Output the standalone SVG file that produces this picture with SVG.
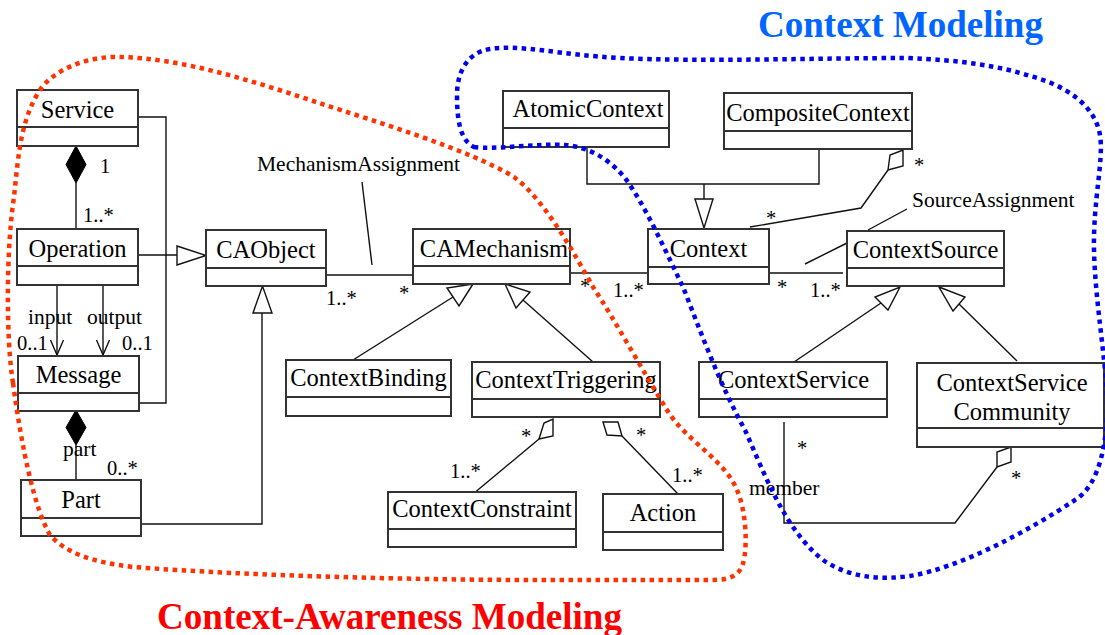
<svg xmlns="http://www.w3.org/2000/svg" width="1105" height="635" viewBox="0 0 1105 635">
<style>
.box{fill:#fff;stroke:#333;stroke-width:2}
.div{stroke:#333;stroke-width:2}
.name{font-family:"Liberation Serif","Times New Roman",serif;font-size:24.5px;fill:#000;text-anchor:middle}
.lbl{font-family:"Liberation Serif","Times New Roman",serif;font-size:21.5px;fill:#000}
.mul{font-family:"Liberation Serif","Times New Roman",serif;font-size:20.5px;fill:#000}
.ln{fill:none;stroke:#111;stroke-width:1.4}
.gen{fill:#fff;stroke:#111;stroke-width:1.4}
.agg{fill:#fff;stroke:#111;stroke-width:1.4}
.comp{fill:#000;stroke:#000;stroke-width:1}
.title{font-family:"Liberation Serif","Times New Roman",serif;font-weight:bold;font-size:37px}
.dotr{fill:none;stroke:#ff3300;stroke-width:4.5;stroke-dasharray:4.5 4.5}
.dotb{fill:none;stroke:#0000f0;stroke-width:4.5;stroke-dasharray:4.5 4.5}
</style>

<g id="connectors">
  <!-- Service composition Operation -->
  <polygon class="comp" points="76,146 86,164.5 76,183 66,164.5"/>
  <line class="ln" x1="76" y1="183" x2="76" y2="229"/>
  <polyline class="ln" points="138,117 166,117 166,403 139,403"/>
  <!-- Operation generalization CAObject -->
  <line class="ln" x1="138" y1="255" x2="177" y2="255"/>
  <polygon class="gen" points="177,246 206,255.5 177,265"/>
  <!-- input / output -->
  <line class="ln" x1="57" y1="285" x2="57" y2="355"/>
  <polyline class="ln" points="50.5,340 57,355 63.5,340"/>
  <line class="ln" x1="103" y1="285" x2="103" y2="355"/>
  <polyline class="ln" points="96.5,340 103,355 109.5,340"/>
  <!-- Message composition Part -->
  <polygon class="comp" points="76,410 86,427.5 76,445 66,427.5"/>
  <line class="ln" x1="76" y1="445" x2="76" y2="480"/>
  <!-- Part generalization CAObject -->
  <polyline class="ln" points="141,524 262,524 262,313"/>
  <polygon class="gen" points="253,313 262.5,286 272,313"/>
  <!-- CAObject - CAMechanism -->
  <line class="ln" x1="326" y1="275" x2="417" y2="275"/>
  <line class="ln" x1="362" y1="182" x2="372" y2="265"/>
  <!-- CAMechanism generalizations -->
  <line class="ln" x1="353" y1="360" x2="453" y2="297"/>
  <polygon class="gen" points="473,284 459,306 447,288"/>
  <line class="ln" x1="593" y1="362" x2="523" y2="300"/>
  <polygon class="gen" points="505,284 530,292 516,308"/>
  <!-- ContextTriggering aggregations -->
  <polygon class="agg" points="539,439 544,423 553,419 553,436"/>
  <line class="ln" x1="539" y1="439" x2="473" y2="494"/>
  <polygon class="agg" points="603,422 618,422 622,436 607,435"/>
  <line class="ln" x1="622" y1="436" x2="678" y2="494"/>
  <!-- CAMechanism - Context -->
  <line class="ln" x1="568" y1="273" x2="652" y2="273"/>
  <!-- Context - ContextSource -->
  <line class="ln" x1="769" y1="273" x2="843" y2="273"/>
  <line class="ln" x1="907" y1="209" x2="868" y2="230"/>
  <line class="ln" x1="847" y1="243" x2="805" y2="264"/>
  <!-- Atomic/Composite generalization Context -->
  <polyline class="ln" points="587,147 587,184 819,184 819,149"/>
  <line class="ln" x1="704" y1="184" x2="704" y2="199"/>
  <polygon class="gen" points="695,199 713,199 704,228"/>
  <!-- Context - CompositeContext aggregation -->
  <polyline class="ln" points="750,227 861,208 888,170"/>
  <polygon class="agg" points="888,170 890,155 903,150 903,166"/>
  <!-- ContextSource generalizations -->
  <line class="ln" x1="794" y1="362" x2="881" y2="303"/>
  <polygon class="gen" points="900,287 888,310 875,297"/>
  <line class="ln" x1="1017" y1="361" x2="959" y2="304"/>
  <polygon class="gen" points="939,287 965,297 953,311"/>
  <!-- member aggregation -->
  <polyline class="ln" points="784,422 784,523 955,523 997,467"/>
  <polygon class="agg" points="997,467 997,452 1011,447 1011,462"/>
</g>

<g id="labels">
  <text class="mul" x="100" y="173">1</text>
  <text class="mul" x="83" y="222">1..*</text>
  <text class="lbl" x="28" y="324">input</text>
  <text class="lbl" x="87" y="324">output</text>
  <text class="mul" x="17" y="350">0..1</text>
  <text class="mul" x="122" y="350">0..1</text>
  <text class="lbl" x="63" y="456">part</text>
  <text class="mul" x="107" y="475">0..*</text>
  <text class="lbl" x="257" y="171">MechanismAssignment</text>
  <text class="mul" x="326" y="305">1..*</text>
  <text class="mul" x="399" y="300">*</text>
  <text class="mul" x="580" y="293">*</text>
  <text class="mul" x="613" y="297">1..*</text>
  <text class="mul" x="777" y="294">*</text>
  <text class="mul" x="810" y="297">1..*</text>
  <text class="mul" x="766" y="225">*</text>
  <text class="mul" x="914" y="172">*</text>
  <text class="lbl" x="912" y="207">SourceAssignment</text>
  <text class="mul" x="797" y="455">*</text>
  <text class="lbl" x="749" y="495">member</text>
  <text class="mul" x="1011" y="485">*</text>
  <text class="mul" x="521" y="443">*</text>
  <text class="mul" x="450" y="478">1..*</text>
  <text class="mul" x="636" y="442">*</text>
  <text class="mul" x="672" y="482">1..*</text>
</g>

<g id="Service"><rect class="box" x="17" y="90" width="121" height="56"/><line class="div" x1="17" y1="127" x2="138" y2="127"/><text class="name" x="77.5" y="118">Service</text></g>
<g id="Operation"><rect class="box" x="17" y="229" width="121" height="56"/><line class="div" x1="17" y1="266" x2="138" y2="266"/><text class="name" x="77.5" y="257">Operation</text></g>
<g id="Message"><rect class="box" x="18" y="356" width="121" height="55"/><line class="div" x1="18" y1="393" x2="139" y2="393"/><text class="name" x="78.5" y="383">Message</text></g>
<g id="Part"><rect class="box" x="21" y="480" width="120" height="56"/><line class="div" x1="21" y1="518" x2="141" y2="518"/><text class="name" x="81" y="508">Part</text></g>
<g id="CAObject"><rect class="box" x="206" y="230" width="120" height="56"/><line class="div" x1="206" y1="268" x2="326" y2="268"/><text class="name" x="266" y="258">CAObject</text></g>
<g id="CAMechanism"><rect class="box" x="413" y="229" width="157" height="55"/><line class="div" x1="413" y1="266" x2="570" y2="266"/><text class="name" x="494" y="257">CAMechanism</text></g>
<g id="ContextBinding"><rect class="box" x="286" y="360" width="165" height="56"/><line class="div" x1="286" y1="397" x2="451" y2="397"/><text class="name" x="368.5" y="386">ContextBinding</text></g>
<g id="ContextTriggering"><rect class="box" x="472" y="362" width="188" height="55"/><line class="div" x1="472" y1="399" x2="660" y2="399"/><text class="name" x="566" y="388">ContextTriggering</text></g>
<g id="ContextConstraint"><rect class="box" x="388" y="492" width="188" height="55"/><line class="div" x1="388" y1="529" x2="576" y2="529"/><text class="name" x="482" y="517">ContextConstraint</text></g>
<g id="Action"><rect class="box" x="603" y="494" width="120" height="56"/><line class="div" x1="603" y1="532" x2="723" y2="532"/><text class="name" x="663" y="521">Action</text></g>
<g id="AtomicContext"><rect class="box" x="503" y="91" width="166" height="56"/><line class="div" x1="503" y1="128" x2="669" y2="128"/><text class="name" x="588" y="117">AtomicContext</text></g>
<g id="CompositeContext"><rect class="box" x="724" y="93" width="188" height="56"/><line class="div" x1="724" y1="131" x2="912" y2="131"/><text class="name" x="818" y="121">CompositeContext</text></g>
<g id="Context"><rect class="box" x="648" y="229" width="121" height="55"/><line class="div" x1="648" y1="267" x2="769" y2="267"/><text class="name" x="708.5" y="257">Context</text></g>
<g id="ContextSource"><rect class="box" x="847" y="231" width="157" height="55"/><line class="div" x1="847" y1="268" x2="1004" y2="268"/><text class="name" x="925.5" y="258">ContextSource</text></g>
<g id="ContextService"><rect class="box" x="699" y="362" width="188" height="55"/><line class="div" x1="699" y1="399" x2="887" y2="399"/><text class="name" x="793.5" y="388">ContextService</text></g>
<g id="ContextServiceCommunity"><rect class="box" x="917" y="363" width="187" height="84"/><line class="div" x1="917" y1="428" x2="1104" y2="428"/><text class="name" x="1012" y="391">ContextService</text><text class="name" x="1012" y="420">Community</text></g>

<g id="regions">
  <path class="dotr" d="M 13,383 C 6,340 6,250 14,197 C 18,160 20,120 40,90 C 55,68 90,56 119,57 C 180,58 250,80 316,102 C 380,123 470,150 514,177 C 545,200 575,255 593,287 C 615,320 645,375 667,410 C 685,440 725,460 737,490 C 748,515 748,560 740,570 C 733,580 720,580 707,580 L 540,580 C 420,580 250,576 133,567 C 90,562 65,552 50,535 C 35,510 22,450 13,383 Z"/>
  <path class="dotb" d="M 474,147 C 495,150 540,143 565,145 C 590,147 610,160 625,178 C 645,205 665,250 683,287 C 700,330 720,385 745,430 C 765,475 785,530 823,560 C 850,578 880,580 910,576 C 960,568 1030,530 1075,500 C 1100,485 1108,440 1107,400 C 1106,360 1095,300 1094,250 C 1093,200 1104,160 1100,135 C 1095,105 1065,85 1030,76 C 1000,66 960,60 906,58 C 820,58 700,62 620,58 C 560,55 520,44 490,49 C 465,53 457,75 457,95 C 457,120 460,140 474,147 Z"/>
  <text class="title" x="758" y="37" fill="#0066ff" textLength="285" lengthAdjust="spacingAndGlyphs">Context Modeling</text>
  <text class="title" x="157" y="629" fill="#ff0000" textLength="465" lengthAdjust="spacingAndGlyphs">Context-Awareness Modeling</text>
</g>
</svg>
